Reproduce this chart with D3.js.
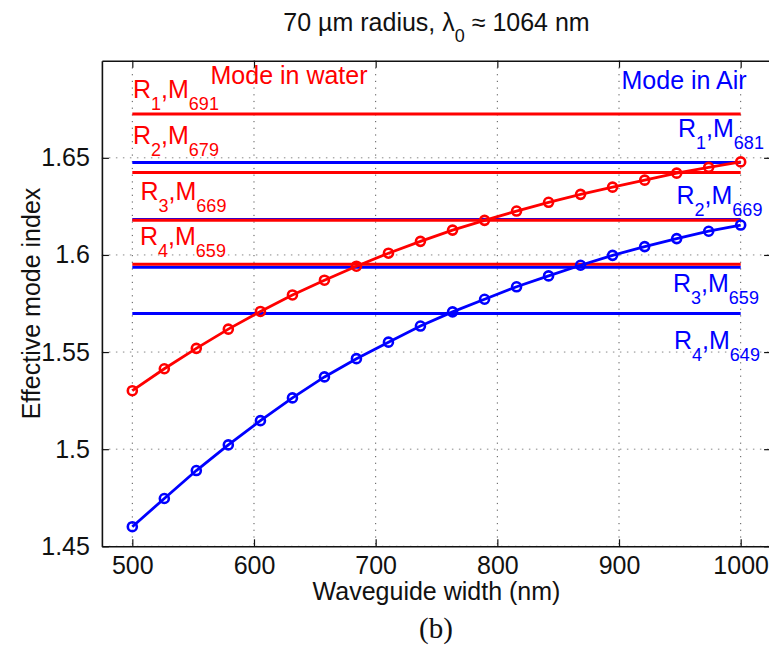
<!DOCTYPE html>
<html>
<head>
<meta charset="utf-8">
<script src="https://cdn.jsdelivr.net/npm/d3@7"></script>
<style>
  body { margin: 0; background: #fff; }
  text { font-family: "Liberation Sans", Arial, Helvetica, sans-serif; }
</style>
</head>
<body>
<script>
// waveguide widths (nm), 20 samples
let widths = [500, 526.3, 552.6, 578.9, 605.3, 631.6, 657.9, 684.2, 710.5, 736.8,
              763.2, 789.5, 815.8, 842.1, 868.4, 894.7, 921.1, 947.4, 973.7, 1000]

// effective index of the waveguide mode, water and air cladding
let waterIndex = [1.5301, 1.5414, 1.5519, 1.5618, 1.5709, 1.5794, 1.5870, 1.5942, 1.6009, 1.6070,
                  1.6128, 1.6178, 1.6226, 1.6271, 1.6312, 1.6349, 1.6385, 1.6421, 1.6451, 1.6479]
let airIndex = [1.4601, 1.4746, 1.4890, 1.5022, 1.5147, 1.5264, 1.5372, 1.5466, 1.5551, 1.5634,
                1.5707, 1.5772, 1.5836, 1.5892, 1.5947, 1.5998, 1.6043, 1.6084, 1.6122, 1.6154]

// resonator mode indices (horizontal lines)
let waterRes = [1.6725, 1.6425, 1.6179, 1.5952]
let waterModes = [691, 679, 669, 659]
let airRes = [1.6476, 1.6183, 1.5937, 1.5698]
let airModes = [681, 669, 659, 649]

let xTicks = [500, 600, 700, 800, 900, 1000]
let xTickLabels = ["500", "600", "700", "800", "900", "1000"]
let yTicks = [1.45, 1.5, 1.55, 1.6, 1.65]
let yTickLabels = ["1.45", "1.5", "1.55", "1.6", "1.65"]

// layout
let width = 769
let height = 656
let pLeft = 101.9, pRight = 771.1, pTop = 60.7, pBottom = 546.3
let red = "#ff0000", blue = "#0000ff"
let fs = 25, subFs = 18

// label anchors (baseline of the "R"), pixels
let waterLabelPos = [[133, 98], [133, 144], [140.5, 200], [140, 245]]
let airLabelPos = [[678, 136.5], [676.5, 204], [673, 291.5], [674, 349]]

let svg = d3.select("body").append("svg")
    .attr("width", width)
    .attr("height", height)

svg.append("rect").attr("width", width).attr("height", height).attr("fill", "#fff")

let x = d3.scaleLinear().domain([475, 1025]).range([pLeft, pRight])
let y = d3.scaleLinear().domain([1.45, 1.70]).range([pBottom, pTop])

// grid
svg.append("g").selectAll("line")
    .data(xTicks).enter().append("line")
    .attr("x1", d => x(d)).attr("x2", d => x(d))
    .attr("y1", pTop).attr("y2", pBottom)
    .attr("stroke", "#555").attr("stroke-width", 1)
    .attr("stroke-dasharray", "1.2,5.5")

svg.append("g").selectAll("line")
    .data(yTicks).enter().append("line")
    .attr("x1", pLeft).attr("x2", pRight)
    .attr("y1", d => y(d)).attr("y2", d => y(d))
    .attr("stroke", "#888").attr("stroke-width", 1)
    .attr("stroke-dasharray", "1.5,5.5")

// axes with inward ticks
let xAxisB = d3.axisBottom(x).tickValues(xTicks).tickSizeInner(-7).tickSizeOuter(0).tickPadding(10)
    .tickFormat((d, i) => xTickLabels[i])
let xAxisT = d3.axisTop(x).tickValues(xTicks).tickSizeInner(-7).tickSizeOuter(0).tickFormat("")
let yAxisL = d3.axisLeft(y).tickValues(yTicks).tickSizeInner(-7).tickSizeOuter(0).tickPadding(12)
    .tickFormat((d, i) => yTickLabels[i])
let yAxisR = d3.axisRight(y).tickValues(yTicks).tickSizeInner(-7).tickSizeOuter(0).tickFormat("")

function styleAxis(g) {
    g.select(".domain").attr("stroke", "#111").attr("stroke-width", 1.6)
    g.selectAll(".tick line").attr("stroke", "#111").attr("stroke-width", 1.2)
    g.selectAll(".tick text")
        .attr("font-size", fs)
        .attr("font-family", "'Liberation Sans', Arial, sans-serif")
        .attr("fill", "#111")
}

svg.append("g").attr("transform", `translate(0,${pBottom})`).call(xAxisB).call(styleAxis)
svg.append("g").attr("transform", `translate(0,${pTop})`).call(xAxisT).call(styleAxis)
svg.append("g").attr("transform", `translate(${pLeft},0)`).call(yAxisL).call(styleAxis)
svg.append("g").attr("transform", `translate(${pRight},0)`).call(yAxisR).call(styleAxis)

// resonance lines: air first, water on top
function resLines(vals, color) {
    svg.append("g").selectAll("line")
        .data(vals).enter().append("line")
        .attr("x1", x(500)).attr("x2", x(1000))
        .attr("y1", d => y(d)).attr("y2", d => y(d))
        .attr("stroke", color).attr("stroke-width", 3)
}
resLines(airRes, blue)
resLines(waterRes, red)

// curves
function curve(vals, color) {
    let pts = widths.map((w, i) => [w, vals[i]])
    let line = d3.line().x(d => x(d[0])).y(d => y(d[1]))
    svg.append("path").datum(pts)
        .attr("d", line)
        .attr("fill", "none")
        .attr("stroke", color)
        .attr("stroke-width", 2.8)
    svg.append("g").selectAll("circle")
        .data(pts).enter().append("circle")
        .attr("cx", d => x(d[0])).attr("cy", d => y(d[1]))
        .attr("r", 4.5)
        .attr("fill", "none")
        .attr("stroke", color)
        .attr("stroke-width", 2.6)
}
curve(waterIndex, red)
curve(airIndex, blue)

// R_n,M_m labels
function modeLabels(modes, pos, color) {
    modes.forEach((m, i) => {
        let t = svg.append("text")
            .attr("x", pos[i][0]).attr("y", pos[i][1])
            .attr("fill", color).attr("font-size", fs)
        t.append("tspan").text("R")
        t.append("tspan").attr("font-size", subFs).attr("dy", 12).text(i + 1)
        t.append("tspan").attr("dy", -12).text(",M")
        t.append("tspan").attr("font-size", subFs).attr("dy", 12).text(m)
    })
}
modeLabels(waterModes, waterLabelPos, red)
modeLabels(airModes, airLabelPos, blue)

svg.append("text").attr("x", 210.5).attr("y", 84.3)
    .attr("fill", red).attr("font-size", fs).text("Mode in water")
svg.append("text").attr("x", 621.5).attr("y", 89.3)
    .attr("fill", blue).attr("font-size", fs).text("Mode in Air")

// title
let title = svg.append("text")
    .attr("x", (pLeft + pRight) / 2).attr("y", 30.7)
    .attr("text-anchor", "middle")
    .attr("font-size", fs).attr("fill", "#111")
title.append("tspan").text("70 \u00b5m radius, \u03bb")
title.append("tspan").attr("font-size", subFs).attr("dy", 11).text("0")
title.append("tspan").attr("dy", -11).text(" \u2248 1064 nm")

// axis titles
svg.append("text")
    .attr("x", (pLeft + pRight) / 2).attr("y", 600)
    .attr("text-anchor", "middle")
    .attr("font-size", fs).attr("fill", "#111")
    .text("Waveguide width (nm)")

svg.append("text")
    .attr("transform", `translate(40,${(pTop + pBottom) / 2}) rotate(-90)`)
    .attr("text-anchor", "middle")
    .attr("font-size", fs).attr("fill", "#111")
    .text("Effective mode index")

svg.append("text")
    .attr("x", 436).attr("y", 638)
    .attr("text-anchor", "middle")
    .attr("font-size", 29)
    .style("font-family", "'Liberation Serif', 'DejaVu Serif', serif")
    .attr("fill", "#111")
    .text("(b)")
</script>
</body>
</html>
